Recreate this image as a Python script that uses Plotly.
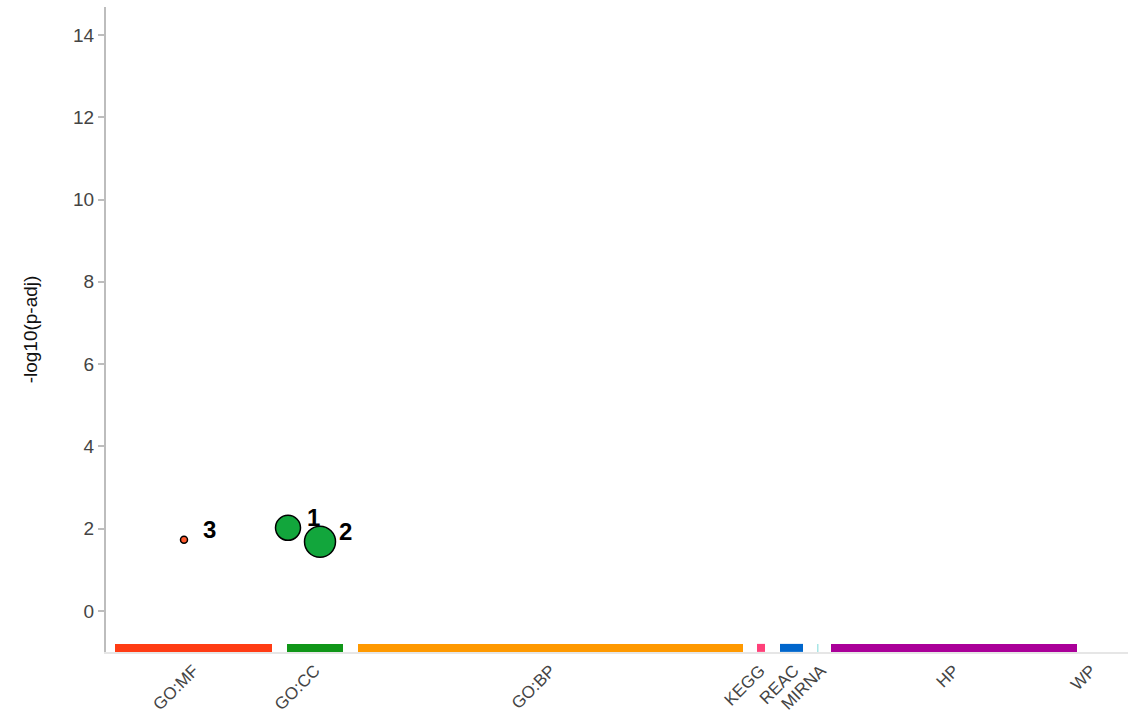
import plotly.graph_objects as go

# Data sources laid out along the x axis (start, end of each block)
sources = ["GO:MF", "GO:CC", "GO:BP", "KEGG", "REAC", "MIRNA", "HP", "WP"]
src_start = [9, 181, 252, 651, 674, 711, 725, 985]
src_end = [166, 237, 637, 659, 697, 712.5, 971, 985]
src_label_pos = [87.5, 209, 444.5, 654, 688, 715, 848, 985]
src_colors = ["#FF3C14", "#109618", "#FF9900", "#FF4079", "#0066CC", "#A8E6E6", "#AA0099", "#0099C6"]

# Significant terms
term_ids = ["1", "2", "3"]
term_x = [182, 214, 78]
term_y = [2.02, 1.68, 1.73]
term_size = [25, 31, 7]
term_colors = ["#12A63C", "#12A63C", "#FF5A2D"]

BAR_Y = -0.9

fig = go.Figure()

for name, s, e, c in zip(sources, src_start, src_end, src_colors):
    if e > s:
        fig.add_trace(go.Scatter(
            x=[s, e], y=[BAR_Y, BAR_Y], mode="lines",
            line=dict(color=c, width=8), hoverinfo="skip", showlegend=False,
        ))

fig.add_trace(go.Scatter(
    x=term_x, y=term_y, mode="markers",
    marker=dict(size=term_size, color=term_colors, opacity=1,
                line=dict(color="black", width=1.5)),
    showlegend=False, cliponaxis=False,
))

for tid, x, y in zip(term_ids, term_x, term_y):
    fig.add_annotation(
        x=x, y=y, text=f"<b>{tid}</b>", showarrow=False,
        xshift=25, yshift=10, font=dict(size=24, color="black", family="Liberation Sans"),
    )

fig.update_layout(
    width=1132, height=715,
    margin=dict(l=106, r=4, t=7, b=63),
    paper_bgcolor="white", plot_bgcolor="white",
    font=dict(family="Liberation Sans", color="#444444", size=16),
    xaxis=dict(
        range=[0, 1022], showgrid=False, zeroline=False, automargin=False,
        showline=True, linecolor="#E6E6E6", linewidth=2,
        tickmode="array", tickvals=src_label_pos, ticktext=sources,
        tickangle=-45, ticks="", tickfont=dict(size=17, color="#444444"),
    ),
    yaxis=dict(
        range=[-1.0, 14.68], showgrid=False, zeroline=False, automargin=False,
        showline=True, linecolor="#BDBDBD", linewidth=2,
        tickmode="array", tickvals=[0, 2, 4, 6, 8, 10, 12, 14],
        ticks="outside", ticklen=6, tickcolor="#BDBDBD", tickwidth=1.5,
        tickfont=dict(size=19, color="#444444"),
        title=dict(text="-log10(p-adj)", font=dict(size=19, color="#111111"), standoff=30),
    ),
)

fig.write_html("out.html")
